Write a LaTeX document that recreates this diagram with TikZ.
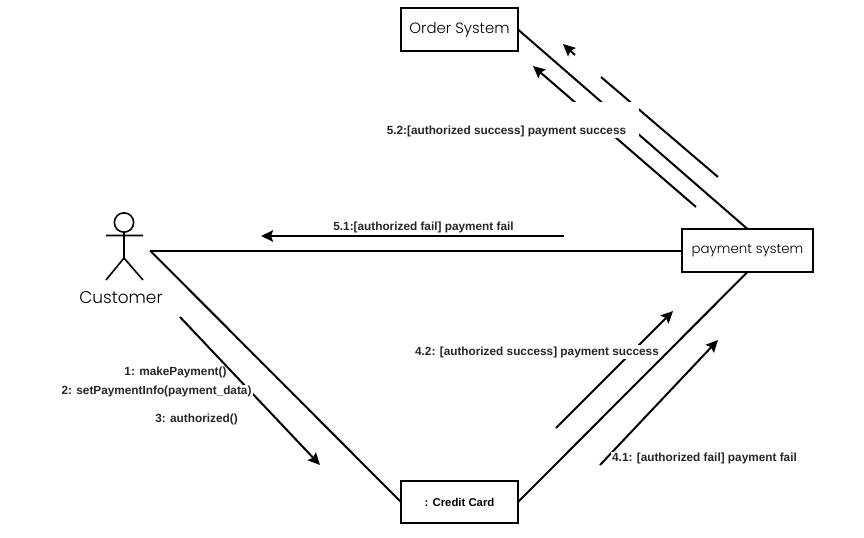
\documentclass[tikz,border=0pt]{standalone}
\usepackage{fontspec}
\setmainfont{Liberation Sans}
\newfontfamily\lightfont{Poppins}[UprightFont=* Light]
\usetikzlibrary{arrows.meta}
\tikzset{
  sysbox/.style={draw,line width=2pt,minimum width=87.75pt,minimum height=32.25pt,inner sep=0pt,outer sep=0pt,font=\lightfont\fontsize{11.2pt}{13pt}\selectfont},
  msg/.style={font=\bfseries\fontsize{8.85pt}{10pt}\selectfont,inner sep=1pt,text=black!85},
  link/.style={line width=1.5pt},
  flow/.style={line width=1.5pt,-{Stealth[length=9pt,width=8.5pt,inset=1.5pt]}},
  limb/.style={line width=1.2pt}
}
\begin{document}
\begin{tikzpicture}[x=0.75pt,y=-0.75pt]
    \useasboundingbox (0,0) rectangle (864,537);
    \node[sysbox] (order) at (459.5,29.5) {\raisebox{-0.6pt}{Order System}};
    \node[sysbox,minimum width=98.25pt,font=\lightfont\fontsize{10pt}{12pt}\selectfont] (pay) at (747.5,250.5) {payment system};
    \node[sysbox,minimum height=31.5pt,font=\bfseries\fontsize{8.5pt}{10pt}\selectfont] (card) at (459.5,502) {: Credit Card};

    % actor
    \node[draw,circle,limb,minimum size=14.5pt,inner sep=0pt] (head) at (124,222.5) {};
    \coordinate (neck) at (124,232);
    \coordinate (hip) at (124,258);
    \coordinate (armL) at (106,235.5);
    \coordinate (armR) at (143,235.5);
    \coordinate (legL) at (106,280);
    \coordinate (legR) at (143,280);
    \draw[limb] (head.south) -- (hip) (armL) -- (armR) (legL) -- (hip) -- (legR);
    \node[font=\lightfont\fontsize{12.7pt}{14pt}\selectfont,inner sep=0pt] (customer) at (121,297.5) {Customer};

    % links
    \coordinate (actor) at (150,250.5);
    \draw[link] (actor) -- (pay.west);
    \draw[link] (actor) -- (card.west);
    \draw[link] (card.east) -- (pay.south);
    \draw[link] (pay.north) -- (order.east);

    % messages
    \coordinate (a1) at (180,317);
    \coordinate (a2) at (320,465);
    \draw[flow] (a1) -- (a2);
    \coordinate (b1) at (564,236);
    \coordinate (b2) at (261,236);
    \draw[flow] (b1) -- (b2);
    \coordinate (c1) at (696,207);
    \coordinate (c2) at (533,66);
    \draw[flow] (c1) -- (c2);
    \coordinate (d1) at (718,177);
    \coordinate (d2) at (601,77);
    \coordinate (d3) at (575,55);
    \coordinate (d4) at (563,44);
    \draw[link] (d1) -- (d2);
    \draw[flow] (d3) -- (d4);
    \coordinate (e1) at (556,428);
    \coordinate (e2) at (673,311);
    \draw[flow] (e1) -- (e2);
    \coordinate (f1) at (600,465);
    \coordinate (f2) at (718,340);
    \draw[flow] (f1) -- (f2);

    % labels
    \node[msg] (l51) at (423.5,227) {5.1:[authorized fail] payment fail};
    \node[msg,fill=white,inner ysep=0pt,inner xsep=9.75pt,text height=24pt,text depth=3pt] (l52) at (506.5,120) {5.2:[authorized success] payment success};
    \node[msg,fill=white] (l42) at (537,352) {4.2: [authorized success] payment success};
    \node[msg,fill=white] (l41) at (704.5,458.5) {4.1: [authorized fail] payment fail};
    \node[msg] (l1) at (175.5,372.5) {1: makePayment()};
    \node[msg,fill=white] (l2) at (156.5,391.5) {2: setPaymentInfo(payment\_data)};
    \node[msg] (l3) at (196.5,419.5) {3: authorized()};
\end{tikzpicture}
\end{document}
